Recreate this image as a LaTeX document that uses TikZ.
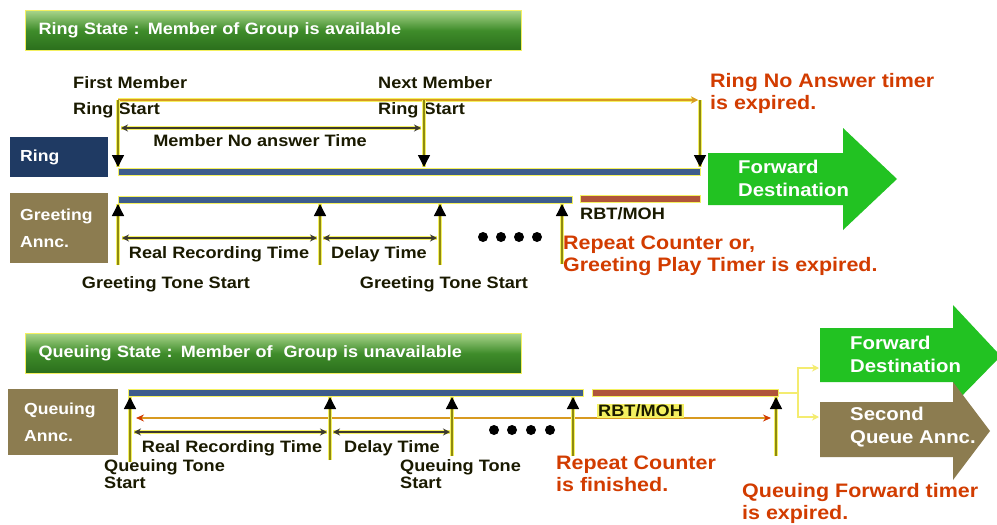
\documentclass[tikz,border=0pt]{standalone}
\usepackage{fontspec}
\setmainfont{Liberation Sans}[FakeStretch=1.1]
\usetikzlibrary{arrows.meta}
\definecolor{navy}{HTML}{1F3A63}
\definecolor{olivebox}{HTML}{8C7C50}
\definecolor{barblue}{HTML}{3D5C8C}
\definecolor{barred}{HTML}{B0553A}
\definecolor{fwdgreen}{HTML}{22C222}
\definecolor{redtxt}{HTML}{D23C00}
\definecolor{tline}{HTML}{8F8A10}
\definecolor{glow}{HTML}{F4F060}
\definecolor{orangeline}{HTML}{D89A20}
\definecolor{lbltxt}{HTML}{1A1A00}
\definecolor{conn}{HTML}{F4EC70}
\definecolor{bantop}{HTML}{A8D48A}
\definecolor{banmid}{HTML}{3E8C2A}
\definecolor{banbot}{HTML}{2A6E1C}
\newcommand\LBf{\fontsize{16.5}{18}\selectfont\bfseries}
\newcommand\RDf{\fontsize{19.5}{22}\selectfont\bfseries}
\tikzset{
  banner/.style={draw=glow, line width=1pt, top color=bantop, bottom color=banbot, middle color=banmid,
    anchor=north west, text width=470pt, minimum height=40pt, inner xsep=13pt, align=left,
    text=white, font=\fontsize{16.4}{18}\selectfont\bfseries},
  statebox/.style={anchor=north west, text=white, align=left, inner xsep=10pt,
    font=\fontsize{16}{27}\selectfont\bfseries, text width=78pt},
  lbl/.style={inner sep=0pt, text=lbltxt, font=\LBf, anchor=west},
  redlbl/.style={inner sep=0pt, text=redtxt, font=\RDf, anchor=west, align=left},
  bar/.style={draw=glow, line width=1pt, fill=barblue, anchor=north west, inner sep=0pt, minimum height=7pt},
  rbar/.style={draw=glow, line width=1pt, fill=barred, anchor=north west, inner sep=0pt, minimum height=7pt},
  timeline/.style={draw=tline, line width=1.4pt, preaction={draw=glow, line width=3.6pt, -}},
  tick/.style={timeline, -{Triangle[width=12pt,length=12pt,color=black]}},
  dimarr/.style={draw=black!75!olive, line width=1.2pt, preaction={draw=glow, line width=3.4pt, -},
    {Stealth[length=7pt,width=7pt]}-{Stealth[length=7pt,width=7pt]}},
  oline/.style={draw=orangeline, line width=1.6pt},
  connline/.style={draw=conn, line width=2pt},
  bigtext/.style={text=white, align=left, inner sep=0pt, anchor=west,
    font=\fontsize{18.5}{23}\selectfont\bfseries}
}
\begin{document}
\begin{tikzpicture}[x=1pt,y=-1pt]
\useasboundingbox (0,0) rectangle (997,525);
\fill[white] (0,0) rectangle (997,525);

% ================= Ring state =================
\node[banner] (ban1) at (25,10) {Ring State : Member of Group is available};

\node[statebox, fill=navy, minimum width=98pt, minimum height=40pt] (ringbox) at (10,137) {Ring};
\node[statebox, fill=olivebox, minimum width=98pt, minimum height=70pt] (greetbox) at (10,193) {Greeting\\Annc.};

\node[bar, minimum width=582pt] (ringbar) at (118,168) {};
\node[bar, minimum width=454pt] (greetbar) at (118,196) {};
\node[rbar, minimum width=120pt] (greetrbt) at (580,195) {};

% top labels
\node[lbl] (fm) at (73,83) {First Member};
\node[lbl] (rs1) at (73,110) {Ring Start};
\node[lbl] (nm) at (378,83) {Next Member};
\node[lbl] (rs2) at (378,110) {Ring Start};
\node[redlbl] (rna) at (710,93) {Ring No Answer timer\\is expired.};

\coordinate (t1) at (118,100);
\coordinate (t2) at (424,100);
\coordinate (t3) at (700,100);
\coordinate (t3a) at (698,100);
\coordinate (r1) at (118,167);
\coordinate (r2) at (424,167);
\coordinate (r3) at (700,167);
\draw[oline, preaction={draw=glow, line width=3.4pt}, -{Stealth[length=7pt,width=7pt]}] (t1) -- (t3a);
\draw[tick] (t1) -- (r1);
\draw[tick] (t2) -- (r2);
\draw[tick] (t3) -- (r3);

\coordinate (m1) at (121,128);
\coordinate (m2) at (421,128);
\draw[dimarr] (m1) -- (m2);
\node[lbl, anchor=center] (mnat) at (260,141) {Member No answer Time};

% greeting ticks
\coordinate (g1) at (118,204);
\coordinate (g2) at (320,204);
\coordinate (g3) at (440,204);
\coordinate (g4) at (562,204);
\coordinate (gb1) at (118,265);
\coordinate (gb2) at (320,265);
\coordinate (gb3) at (440,265);
\coordinate (gb4) at (562,264);
\draw[tick] (gb1) -- (g1);
\draw[tick] (gb2) -- (g2);
\draw[tick] (gb3) -- (g3);
\draw[tick] (gb4) -- (g4);

\coordinate (d1) at (122,238);
\coordinate (d2) at (317,238);
\coordinate (d3) at (323,238);
\coordinate (d4) at (437,238);
\draw[dimarr] (d1) -- (d2);
\draw[dimarr] (d3) -- (d4);
\node[lbl, anchor=center] (rrt1) at (219,254) {Real Recording Time};
\node[lbl, anchor=center] (dt1) at (379,254) {Delay Time};
\node[lbl, anchor=center] (gts1) at (166,284) {Greeting Tone Start};
\node[lbl, anchor=center] (gts2) at (444,284) {Greeting Tone Start};
\foreach \xx in {483,501,519,537} \fill (\xx,237) circle[radius=5pt];

\node[lbl, font=\fontsize{16.5}{18}\selectfont\bfseries] (rbt1) at (580,214) {RBT/MOH};
\node[redlbl] (rc1) at (563,256) {Repeat Counter or,\\Greeting Play Timer is expired.};

% forward arrow (ring)
\fill[fwdgreen] (708,153) -- (843,153) -- (843,128) -- (897,179) -- (843,230) -- (843,205) -- (708,205) -- cycle;
\node[bigtext] (fwd1) at (738,178) {Forward\\Destination};

% ================= Queuing state =================
\node[banner] (ban2) at (25,333) {Queuing State : Member of \ Group is unavailable};
\node[statebox, fill=olivebox, minimum width=110pt, minimum height=66pt] (queuebox) at (8,389) {Queuing\\Annc.};

\node[bar, minimum width=455pt] (queuebar) at (128,389) {};
\node[rbar, minimum width=186pt] (queuerbt) at (592,389) {};

\coordinate (q1) at (130,397);
\coordinate (q2) at (330,397);
\coordinate (q3) at (452,397);
\coordinate (q4) at (573,397);
\coordinate (q5) at (776,397);
\coordinate (qb1) at (130,462);
\coordinate (qb2) at (330,460);
\coordinate (qb3) at (452,456);
\coordinate (qb4) at (573,456);
\coordinate (qb5) at (776,456);

\coordinate (o1) at (136,418);
\coordinate (o2) at (771,418);
\draw[oline, {Stealth[length=8pt,width=7pt,color=redtxt]}-{Stealth[length=8pt,width=7pt,color=redtxt]}] (o1) -- (o2);

\draw[tick] (qb1) -- (q1);
\draw[tick] (qb2) -- (q2);
\draw[tick] (qb3) -- (q3);
\draw[tick] (qb4) -- (q4);
\draw[tick] (qb5) -- (q5);

\coordinate (e1) at (134,432);
\coordinate (e2) at (327,432);
\coordinate (e3) at (333,432);
\coordinate (e4) at (450,432);
\draw[dimarr] (e1) -- (e2);
\draw[dimarr] (e3) -- (e4);
\node[lbl, anchor=center] (rrt2) at (232,448) {Real Recording Time};
\node[lbl, anchor=center] (dt2) at (392,448) {Delay Time};
\node[lbl, align=left, font=\fontsize{16.5}{17}\selectfont\bfseries] (qts1) at (104,474) {Queuing Tone\\Start};
\node[lbl, align=left, font=\fontsize{16.5}{17}\selectfont\bfseries] (qts2) at (400,474) {Queuing Tone\\Start};
\foreach \xx in {494,512,531,550} \fill (\xx,430) circle[radius=5pt];

\node[lbl, fill=glow, inner sep=1pt, font=\fontsize{16.5}{18}\selectfont\bfseries] (rbt2) at (597,411) {RBT/MOH};
\node[redlbl] (rc2) at (556,474) {Repeat Counter\\is finished.};
\node[redlbl] (qft) at (742,503) {Queuing Forward timer\\is expired.};

% forward & second queue arrows
\fill[fwdgreen] (820,328) -- (953,328) -- (953,305) -- (997,352) -- (997,360) -- (953,405) -- (953,382) -- (820,382) -- cycle;
\node[bigtext] (fwd2) at (850,354) {Forward\\Destination};
\fill[olivebox] (820,402) -- (953,402) -- (953,382) -- (990,431) -- (953,480) -- (953,457) -- (820,457) -- cycle;
\node[bigtext] (sqa) at (850,427) {Second\\Queue Annc.};

\coordinate (c0) at (779,393);
\coordinate (c1) at (798,393);
\coordinate (c2) at (798,368);
\coordinate (c3) at (798,417);
\coordinate (cf) at (819,368);
\coordinate (cs) at (819,417);
\draw[connline] (c0) -- (c1);
\draw[connline, -{Stealth[length=7pt,width=7pt]}] (c1) -- (c2) -- (cf);
\draw[connline, -{Stealth[length=7pt,width=7pt]}] (c1) -- (c3) -- (cs);
\end{tikzpicture}
\end{document}
